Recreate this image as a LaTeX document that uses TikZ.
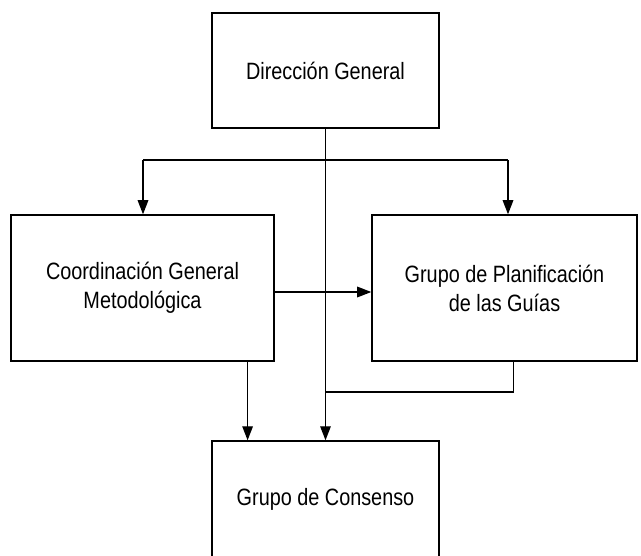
\documentclass[tikz,border=0pt]{standalone}
\usepackage{fontspec}
\setmainfont{Liberation Sans}[FakeStretch=0.84]
\usetikzlibrary{calc, arrows.meta, positioning}
\usepackage{xcolor}

\begin{document}
\begin{tikzpicture}[>={Triangle[length=10pt, width=7.5pt]}, line width=1pt]
				\tikzstyle{box} = [draw=black, rectangle, align=center, inner sep=0pt, font=\fontsize{16.8}{20.6}\selectfont]
				
				\clip (0,0) rectangle (16.025,-13.875);
				\useasboundingbox (0,0) rectangle (16.025,-13.875);
				
				\node[box, minimum width=5.675cm, minimum height=2.875cm]	at (8.1375, -1.7625)	(dg)	{Dirección General};
				\node[box, minimum width=6.575cm, minimum height=3.65cm]	at (3.5625, -7.2)		(cg)	{Coordinación General\\Metodológica};
				\node[box, minimum width=6.625cm, minimum height=3.65cm]	at (12.6125, -7.2)		(gp)	{Grupo de Planificación\\de las Guías};
				\node[box, minimum width=5.675cm, minimum height=2.925cm]	at (8.1375, -12.4875)	(gc)	{Grupo de Consenso};
				
				\coordinate (dl)	at (3.575, -4.0);
				\coordinate (dr)	at (12.7, -4.0);
				\coordinate (ld)	at (6.19, 0);
				\coordinate (rd)	at (12.84, 0);
				\coordinate (jn)	at (8.1375, -9.8);
				
				\draw[->]	(dg.south)	--	(gc.north);
				\draw		(dl)	--	(dr);
				\draw[->]	(dl)	--	(dl |- cg.north);
				\draw[->]	(dr)	--	(dr |- gp.north);
				\draw[->]	([yshift=-0.1cm]cg.east)	--	([yshift=-0.1cm]gp.west);
				\draw[->]	(cg.south -| ld)	--	(gc.north -| ld);
				\draw		(gp.south -| rd)	--	(rd |- jn)	--	(jn);
			\end{tikzpicture}
\end{document}
